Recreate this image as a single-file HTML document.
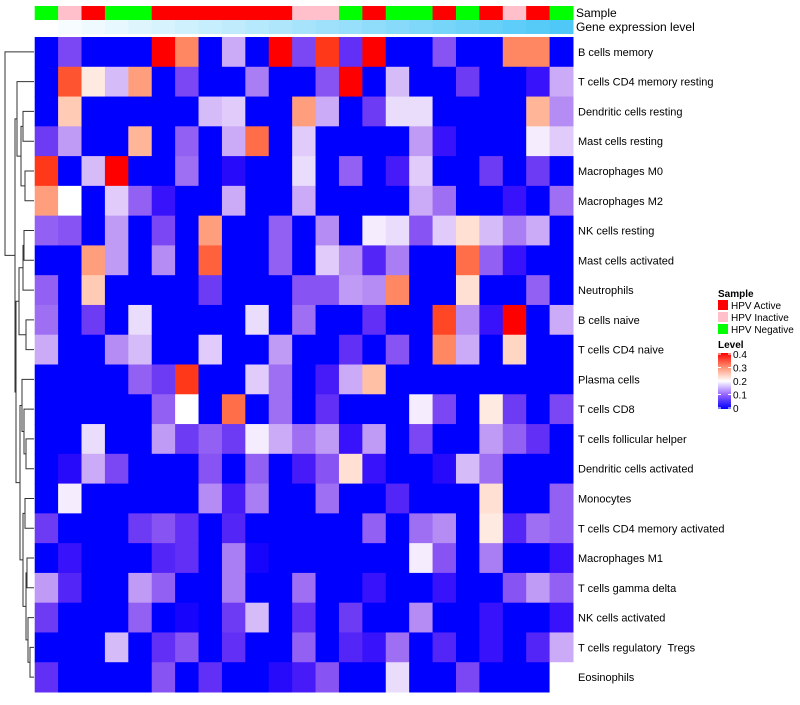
<!DOCTYPE html>
<html><head><meta charset="utf-8"><style>
body{margin:0;background:#fff;font-family:"Liberation Sans",sans-serif}
svg text{font-family:"Liberation Sans",sans-serif;white-space:pre}
</style></head><body>
<svg id="chart" width="800" height="700" xmlns="http://www.w3.org/2000/svg">
<defs><linearGradient id="lvl" x1="0" y1="1" x2="0" y2="0"><stop offset="0" stop-color="#0000ff"/><stop offset="0.25" stop-color="#9261ff"/><stop offset="0.5" stop-color="#ffffff"/><stop offset="0.75" stop-color="#ff9070"/><stop offset="1" stop-color="#ff0000"/></linearGradient></defs>
<g id="cells"></g>
<g id="dendro" stroke="#333" fill="none" stroke-width="1"></g>
<g id="annot"></g>
<g id="rlabels" font-size="11" fill="#000"></g>
<text x="576" y="17" font-size="12">Sample</text>
<text x="576" y="31" font-size="12">Gene expression level</text>
<g font-size="10">
<text x="718" y="297" font-weight="bold">Sample</text>
<rect x="718" y="300" width="10" height="10" fill="#ff0000"/>
<text x="731" y="309">HPV Active</text>
<rect x="718" y="312" width="10" height="10" fill="#ffc0cb"/>
<text x="731" y="321">HPV Inactive</text>
<rect x="718" y="324" width="10" height="10" fill="#00ff00"/>
<text x="731" y="333">HPV Negative</text>
</g>
<g font-size="10">
<text x="718" y="348" font-weight="bold">Level</text>
<rect x="718" y="353" width="13" height="56" fill="url(#lvl)"/>
<g id="lvlticks"></g>
</g>
</svg>
<script>
const rowLabels=["B cells memory","T cells CD4 memory resting","Dendritic cells resting","Mast cells resting","Macrophages M0","Macrophages M2","NK cells resting","Mast cells activated","Neutrophils","B cells naive","T cells CD4 naive","Plasma cells","T cells CD8","T cells follicular helper","Dendritic cells activated","Monocytes","T cells CD4 memory activated","Macrophages M1","T cells gamma delta","NK cells activated","T cells regulatory  Tregs","Eosinophils"];
const sampleGroups=["N","I","A","N","N","A","A","A","A","A","A","I","I","N","A","N","N","A","N","A","I","A","N"];
const levelTicks=[0,0.1,0.2,0.3,0.4];
const values=[
[0,0.08,0,0,0,0.4,0.31,0,0.15,0,0.4,0.08,0.37,0.06,0.4,0,0,0.09,0,0,0.31,0.31,0],
[0,0.35,0.22,0.16,0.29,0,0.08,0,0,0.12,0,0,0.09,0.4,0,0.16,0,0,0.07,0,0,0.03,0.15],
[0,0.25,0,0,0,0,0,0.16,0.17,0,0,0.29,0.15,0,0.07,0.18,0.18,0,0,0,0,0.27,0.13],
[0.07,0.14,0,0,0.27,0,0.1,0,0.15,0.33,0,0.17,0,0,0,0,0.14,0.03,0,0,0,0.19,0.17],
[0.37,0,0.16,0.4,0,0,0.11,0,0.02,0,0,0.18,0,0.1,0,0.04,0.17,0,0,0.07,0,0.07,0],
[0.29,0.2,0,0.17,0.1,0.03,0,0,0.15,0,0,0.15,0,0,0,0,0.15,0.11,0,0,0.03,0,0.11],
[0.1,0.09,0,0.14,0,0.08,0,0.29,0,0,0.1,0,0.13,0,0.19,0.18,0.09,0.17,0.23,0.16,0.12,0.15,0],
[0,0,0.29,0.14,0,0.13,0,0.34,0,0,0.1,0,0.17,0.13,0.05,0.12,0,0,0.33,0.1,0.03,0,0],
[0.1,0,0.25,0,0,0,0,0.07,0,0,0,0.09,0.09,0.14,0.13,0.31,0,0,0.23,0,0,0.1,0],
[0.11,0,0.07,0,0.18,0,0,0,0,0.18,0,0.11,0,0,0.06,0,0,0.36,0.13,0.03,0.4,0,0.15],
[0.15,0,0,0.13,0.16,0,0,0.17,0,0,0.14,0,0,0.06,0,0.09,0,0.31,0.15,0,0.24,0,0],
[0,0,0,0,0.1,0.07,0.37,0,0,0.17,0.11,0,0.04,0.15,0.26,0,0,0,0,0,0,0,0],
[0,0,0,0,0,0.1,0.2,0,0.33,0,0.11,0,0.06,0,0,0,0.19,0.08,0,0.22,0.07,0,0.08],
[0,0,0.18,0,0,0.14,0.07,0.1,0.07,0.19,0.15,0.11,0.14,0.03,0.14,0,0.08,0,0,0.14,0.1,0.06,0],
[0,0.02,0.15,0.08,0,0,0,0.09,0,0.1,0,0.04,0.09,0.23,0.03,0,0,0.02,0.16,0.11,0,0,0],
[0,0.19,0,0,0,0,0,0.13,0.04,0.12,0,0,0.11,0,0,0.05,0,0,0,0.23,0,0,0.1],
[0.07,0,0,0,0.07,0.09,0.06,0,0.05,0,0,0,0,0,0.1,0,0.11,0.13,0,0.22,0.05,0.11,0.1],
[0,0.03,0,0,0,0.05,0.06,0,0.12,0.01,0,0,0,0,0,0,0.19,0.09,0,0.12,0,0,0.03],
[0.14,0.05,0,0,0.14,0.1,0,0,0.12,0,0,0.11,0,0,0.03,0,0,0.03,0,0,0.09,0.14,0.1],
[0.07,0,0,0,0.1,0,0.01,0,0.07,0.16,0,0.06,0,0.07,0,0,0.13,0,0,0.03,0,0,0.03],
[0,0,0,0.16,0,0.06,0.09,0,0.06,0,0,0.1,0,0.05,0.03,0.11,0,0.05,0,0.03,0,0.05,0.15],
[0.06,0,0,0,0,0.09,0,0.06,0,0,0.02,0.04,0.09,0,0,0.18,0,0,0.08,0,0,0,0.2]
];
const NS="http://www.w3.org/2000/svg";
const X0=34.7,X1=573,Y0=37,Y1=692;
const nC=sampleGroups.length,nR=rowLabels.length;
const cw=(X1-X0)/nC,rh=(Y1-Y0)/nR;
const xPos=i=>X0+i*cw, yPos=r=>Y0+r*rh;
function color(v){
  const t=Math.max(0,Math.min(0.4,v));
  let r,g,b;
  if(t<=0.2){const f=t/0.2;r=Math.round(255*Math.pow(f,0.8));g=Math.round(255*Math.pow(f,1.4));b=Math.round(255-12*Math.sin(Math.PI*f));}
  else{const f=1-(t-0.2)/0.2;r=255;g=Math.round(255*Math.pow(f,0.8));b=Math.round(255*Math.pow(f,1.2));}
  return `rgb(${r},${g},${b})`;
}
function mk(tag,attrs,parent){const e=document.createElementNS(NS,tag);for(const k in attrs)e.setAttribute(k,attrs[k]);parent.appendChild(e);return e;}
const cells=document.getElementById('cells');
values.forEach((row,r)=>row.forEach((v,c)=>{
  const e=mk('rect',{x:xPos(c),y:yPos(r),width:cw+0.5,height:rh+0.5,fill:color(v)},cells);
  
  
}));
const annot=document.getElementById('annot');
const gcol={A:'#ff0000',I:'#ffc0cb',N:'#00ff00'};
sampleGroups.forEach((g,c)=>{
  const e=mk('rect',{x:xPos(c),y:6,width:cw+0.5,height:14,fill:gcol[g]},annot);
  
  
  const f=c/(nC-1);
  const rr=Math.round(255+(79-255)*f),gg=Math.round(255+(200-255)*f),bb=Math.round(255+(248-255)*f);
  const e2=mk('rect',{x:xPos(c),y:20,width:cw+0.5,height:14,fill:`rgb(${rr},${gg},${bb})`},annot);
  
  
});
const rl=document.getElementById('rlabels');
rowLabels.forEach((l,r)=>{
  const t=mk('text',{x:578,y:yPos(r)+rh/2+4},rl);t.textContent=l;
  
  
});
const lt=document.getElementById('lvlticks');
levelTicks.forEach(v=>{
  const y=408-v/0.4*54;
  mk('line',{x1:718,x2:721,y1:y,y2:y,stroke:'#fff'},lt);
  mk('line',{x1:728,x2:731,y1:y,y2:y,stroke:'#fff'},lt);
  const t=mk('text',{x:733,y:y+4,'font-size':10},lt);t.textContent=String(v);
  
  
});
const tree={x:5,l:0,r:{x:15,l:{x:17,l:1,r:{x:21,l:{x:23,l:2,r:3},r:{x:25,l:4,r:5}}},
 r:{x:16,l:{x:19,l:{x:23,l:{x:24,l:6,r:7},r:8},r:{x:26,l:9,r:10}},
 r:{x:20,l:{x:22,l:11,r:{x:24,l:12,r:{x:26,l:13,r:14}}},r:{x:23,l:{x:25,l:15,r:16},r:{x:26,l:{x:27,l:17,r:18},r:{x:28,l:19,r:{x:30,l:20,r:21}}}}}}}};
const dg=document.getElementById('dendro');
function draw(n){
  if(typeof n==='number')return {x:34,y:yPos(n)+rh/2};
  const a=draw(n.l),b=draw(n.r);
  mk('path',{d:`M${a.x},${a.y}H${n.x}V${b.y}H${b.x}`},dg);
  return {x:n.x,y:(a.y+b.y)/2};
}
draw(tree);
</script>
</body></html>
